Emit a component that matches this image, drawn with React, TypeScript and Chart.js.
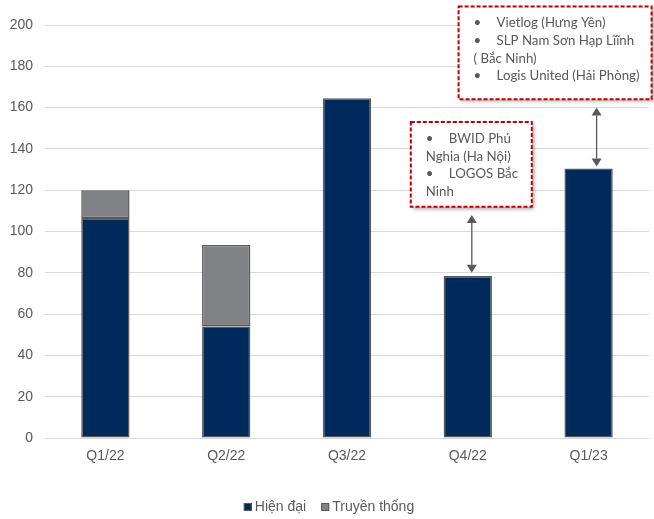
import React, { useEffect, useRef } from "react";
import { Chart, registerables } from "chart.js";

Chart.register(...registerables);

// Quarterly new supply, split by warehouse type
const quarters = ["Q1/22", "Q2/22", "Q3/22", "Q4/22", "Q1/23"];
const modernSupply = [106.5, 54, 164.5, 78.5, 130.5];
const traditionalSupply = [13.5, 39.5, null, null, null];
const yTicks = [0, 20, 40, 60, 80, 100, 120, 140, 160, 180, 200];

// Callout notes listing the projects behind each quarter's supply
const noteQ4 = [
  { bullet: true, text: "BWID Phú" },
  { bullet: false, text: "Nghia (Ha Nội)" },
  { bullet: true, text: "LOGOS Bắc" },
  { bullet: false, text: "Ninh" },
];
const noteQ123 = [
  { bullet: true, text: "Vietlog (Hưng Yên)" },
  { bullet: true, text: "SLP Nam Sơn Hạp Lĩĩnh" },
  { bullet: false, text: "( Bắc Ninh)" },
  { bullet: true, text: "Logis United (Hải Phòng)" },
];

// Each callout: bar index, arrow span (value units), box span (value units / px offsets from bar centre)
const callouts = [
  { index: 3, arrowFrom: 80, arrowTo: 108, arrowDx: 4, boxTop: 153, boxBottom: 112, left: -57, right: 64, lines: noteQ4 },
  { index: 4, arrowFrom: 131.5, arrowTo: 160, arrowDx: 8, boxTop: 209, boxBottom: 164, left: -130, right: 63, lines: noteQ123 },
];

const NAVY = "#002A5C";
const GREY = "#808285";
const EDGE = "#595959";
const TEXT = "#595959";
const FONT = "'Liberation Sans', Arial, sans-serif";
const NOTE_FAMILY = "Lato, 'Open Sans', sans-serif";

// Note text is sized so the longest bulleted line spans this many pixels
const NOTE_SAMPLE = "Logis United (Hải Phòng)";
const NOTE_SAMPLE_WIDTH = 143;

const calloutPlugin = {
  id: "callouts",
  afterDatasetsDraw(chart: any) {
    const { ctx, scales } = chart;
    const x = scales.x;
    const y = scales.y;
    ctx.save();
    ctx.font = `20px ${NOTE_FAMILY}`;
    const noteSize = (20 * NOTE_SAMPLE_WIDTH) / ctx.measureText(NOTE_SAMPLE).width;
    for (const c of callouts) {
      const cx = x.getPixelForValue(c.index);
      // double-headed arrow
      const ax = cx + c.arrowDx;
      const y1 = y.getPixelForValue(c.arrowTo);
      const y2 = y.getPixelForValue(c.arrowFrom);
      const head = 8;
      const hw = 5;
      ctx.strokeStyle = EDGE;
      ctx.fillStyle = EDGE;
      ctx.lineWidth = 1.3;
      ctx.beginPath();
      ctx.moveTo(ax, y1 + head);
      ctx.lineTo(ax, y2 - head);
      ctx.stroke();
      ctx.beginPath();
      ctx.moveTo(ax, y1);
      ctx.lineTo(ax - hw, y1 + head);
      ctx.lineTo(ax + hw, y1 + head);
      ctx.closePath();
      ctx.fill();
      ctx.beginPath();
      ctx.moveTo(ax, y2);
      ctx.lineTo(ax - hw, y2 - head);
      ctx.lineTo(ax + hw, y2 - head);
      ctx.closePath();
      ctx.fill();

      // note box
      const bl = cx + c.left;
      const br = cx + c.right;
      const bt = Math.max(5, y.getPixelForValue(c.boxTop));
      const bb = y.getPixelForValue(c.boxBottom);
      ctx.save();
      ctx.shadowColor = "rgba(0,0,0,0.35)";
      ctx.shadowBlur = 4;
      ctx.shadowOffsetX = 2;
      ctx.shadowOffsetY = 2;
      ctx.fillStyle = "#FFFFFF";
      ctx.fillRect(bl, bt, br - bl, bb - bt);
      ctx.restore();
      ctx.save();
      ctx.strokeStyle = "#C00000";
      ctx.lineWidth = 2;
      ctx.setLineDash([4, 2]);
      ctx.strokeRect(bl, bt, br - bl, bb - bt);
      ctx.restore();

      ctx.fillStyle = TEXT;
      ctx.font = `${noteSize.toFixed(2)}px ${NOTE_FAMILY}`;
      ctx.textBaseline = "middle";
      ctx.textAlign = "left";
      const lineH = 17.7;
      const firstY = bt + 16.5;
      c.lines.forEach((ln, i) => {
        const ty = firstY + i * lineH;
        if (ln.bullet) {
          ctx.fillText("•", bl + 15, ty);
          ctx.fillText(ln.text, bl + 38, ty);
        } else {
          ctx.fillText(ln.text, bl + 15, ty);
        }
      });
    }
    ctx.restore();
  },
  // legend row under the x axis: small outlined swatch, then the series name
  afterDraw(chart: any) {
    const { ctx } = chart;
    const sets = chart.data.datasets;
    const box = 8;
    const gap = 3;
    const spacing = 15;
    ctx.save();
    ctx.font = `14px ${FONT}`;
    ctx.textBaseline = "middle";
    ctx.textAlign = "left";
    const widths = sets.map((d: any) => box + gap + ctx.measureText(d.label).width);
    const total = widths.reduce((a: number, b: number) => a + b, 0) + spacing * (sets.length - 1);
    let lx = chart.width / 2 + 2 - total / 2;
    const ly = 507;
    sets.forEach((d: any, i: number) => {
      ctx.fillStyle = d.backgroundColor;
      ctx.fillRect(lx, ly - box / 2, box, box);
      ctx.strokeStyle = EDGE;
      ctx.lineWidth = 1;
      ctx.strokeRect(lx + 0.5, ly - box / 2 + 0.5, box - 1, box - 1);
      ctx.fillStyle = TEXT;
      ctx.fillText(d.label, lx + box + gap, ly);
      lx += widths[i] + spacing;
    });
    ctx.restore();
  },
};

export default function App() {
  const canvasRef = useRef<HTMLCanvasElement | null>(null);

  useEffect(() => {
    if (!canvasRef.current) return;
    const chart = new Chart(canvasRef.current, {
      type: "bar",
      data: {
        labels: quarters,
        datasets: [
          {
            label: "Hiện đại",
            data: modernSupply,
            backgroundColor: NAVY,
            borderColor: EDGE,
            borderWidth: 1.5,
            borderSkipped: false,
          },
          {
            label: "Truyền thống",
            data: traditionalSupply,
            backgroundColor: GREY,
            borderColor: EDGE,
            borderWidth: 1.5,
            borderSkipped: false,
          },
        ],
      },
      options: {
        animation: false,
        responsive: false,
        maintainAspectRatio: false,
        datasets: { bar: { barPercentage: 0.8, categoryPercentage: 0.5 } },
        layout: { padding: { top: 25, right: 5, left: 0, bottom: 0 } },
        plugins: {
          tooltip: { enabled: false },
          legend: { display: false },
        },
        scales: {
          x: {
            stacked: true,
            grid: { display: false, drawTicks: false },
            border: { display: false },
            ticks: { color: TEXT, font: { family: FONT, size: 14 }, padding: 10 },
            afterFit: (s: any) => {
              s.height = 81;
            },
          },
          y: {
            stacked: true,
            min: 0,
            max: 200,
            afterBuildTicks: (s: any) => {
              s.ticks = yTicks.map((v) => ({ value: v }));
            },
            grid: { color: "#D9D9D9", lineWidth: 1, drawTicks: false },
            border: { display: false },
            ticks: { color: TEXT, font: { family: FONT, size: 14 }, padding: 12 },
            afterFit: (s: any) => {
              s.width = 45;
            },
          },
        },
      },
      plugins: [calloutPlugin],
    });
    return () => chart.destroy();
  }, []);

  return (
    <div style={{ position: "fixed", left: 0, top: 0, width: 654, height: 519, background: "#fff" }}>
      <canvas ref={canvasRef} width={654} height={519} style={{ width: 654, height: 519 }} />
    </div>
  );
}
